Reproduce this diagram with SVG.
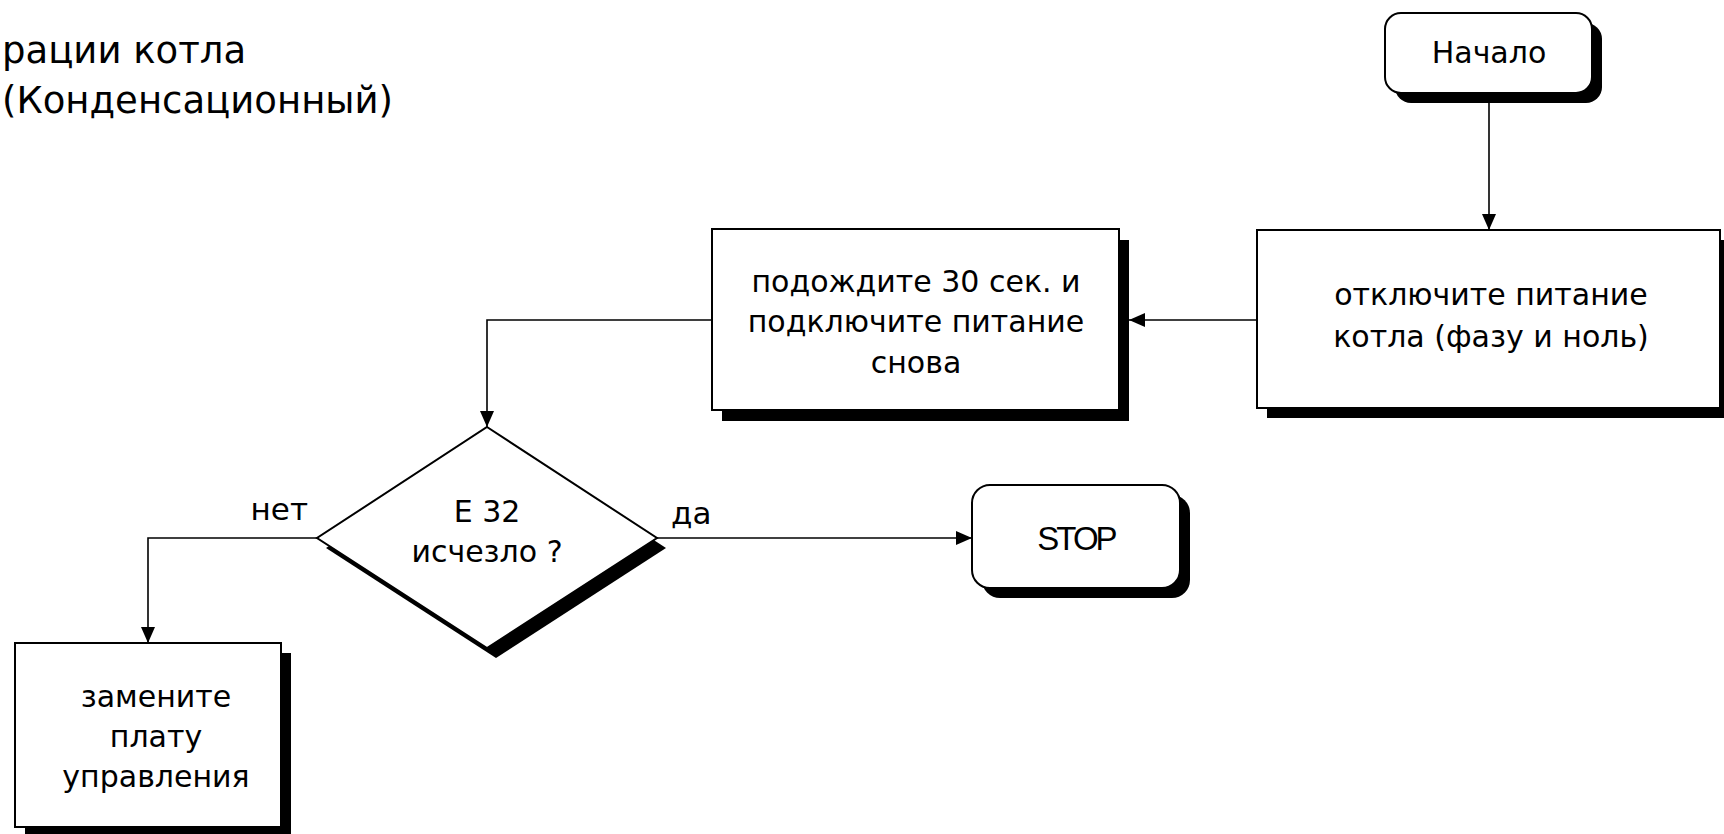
<svg xmlns="http://www.w3.org/2000/svg" width="1724" height="834" viewBox="0 0 1724 834">
<defs>
<marker id="arr" viewBox="0 0 16 14" markerUnits="userSpaceOnUse" markerWidth="16" markerHeight="14" refX="16" refY="7" orient="auto">
<path d="M0,0 L16,7 L0,14 z" fill="#000"/>
</marker>
</defs>
<style>
.box{fill:#fff;stroke:#000;stroke-width:2}
.sh{fill:#000}
.t{font-family:"DejaVu Sans","Liberation Sans",sans-serif;font-size:30px;fill:#000;text-anchor:middle}
.title{font-family:"DejaVu Sans","Liberation Sans",sans-serif;font-size:37px;fill:#000;text-anchor:start}
.lbl{font-family:"DejaVu Sans","Liberation Sans",sans-serif;font-size:31px;fill:#000}
.c{fill:none;stroke:#000;stroke-width:1.6;marker-end:url(#arr)}
</style>
<rect width="1724" height="834" fill="#fff"/>
<g id="title">
<text class="title" x="2" y="63">рации котла</text>
<text class="title" x="2" y="113">(Конденсационный)</text>
</g>
<g id="connectors">
<path class="c" d="M1489,93 V230"/>
<path class="c" d="M1257,320 H1129"/>
<path class="c" d="M712,320 H487 V427"/>
<path class="c" d="M657,538 H972"/>
<path class="c" d="M317,538 H148 V643"/>
</g>
<g id="start">
<rect class="sh" x="1395" y="23" width="207" height="80" rx="16"/>
<rect class="box" x="1385" y="13" width="207" height="80" rx="16"/>
<text class="t" x="1489" y="63">Начало</text>
</g>
<g id="power-off">
<rect class="sh" x="1267" y="240" width="463" height="178"/>
<rect class="box" x="1257" y="230" width="463" height="178"/>
<text class="t" x="1491" y="305">отключите питание</text>
<text class="t" x="1491" y="347">котла (фазу и ноль)</text>
</g>
<g id="wait">
<rect class="sh" x="722" y="240" width="407" height="181"/>
<rect class="box" x="712" y="229" width="407" height="181"/>
<text class="t" x="916" y="292">подождите 30 сек. и</text>
<text class="t" x="916" y="332">подключите питание</text>
<text class="t" x="916" y="373">снова</text>
</g>
<g id="decision">
<polygon class="sh" points="496,437 666,548 496,658 326,548"/>
<polygon class="box" points="487,427 657,538 487,648 317,538"/>
<text class="t" x="487" y="522">E 32</text>
<text class="t" x="487" y="562">исчезло ?</text>
</g>
<text class="lbl" x="308" y="520" text-anchor="end">нет</text>
<text class="lbl" x="671" y="524">да</text>
<g id="stop">
<rect class="sh" x="982" y="495" width="208" height="103" rx="18"/>
<rect class="box" x="972" y="485" width="208" height="103" rx="18"/>
<text x="1076" y="550" style="font-family:'Liberation Sans',Arial,sans-serif;font-size:33px;letter-spacing:-3px;text-anchor:middle">STOP</text>
</g>
<g id="replace">
<rect class="sh" x="25" y="653" width="266" height="184"/>
<rect class="box" x="15" y="643" width="266" height="184"/>
<text class="t" x="156" y="707">замените</text>
<text class="t" x="156" y="747">плату</text>
<text class="t" x="156" y="787">управления</text>
</g>
</svg>
